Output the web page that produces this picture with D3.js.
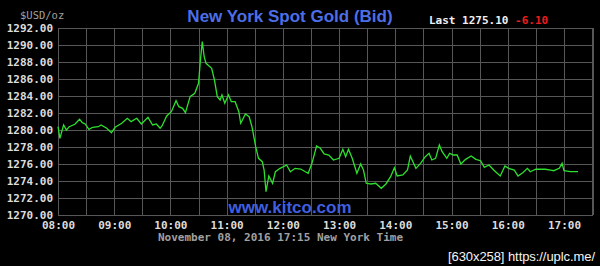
<!DOCTYPE html>
<html lang="en">

<head>
    <title>New York Spot Gold (Bid)</title>
    <meta charset="UTF-8">
    <script src="https://cdn.jsdelivr.net/npm/d3@7"></script>
    <style>
        body {
            margin: 0;
            background: #000;
        }
        svg {
            display: block;
        }
    </style>
</head>

<body>
    <script>
        // chart data
        var times = ['08:00', '08:02', '08:06', '08:09', '08:12', '08:18', '08:23', '08:26', '08:29', '08:33',
            '08:37', '08:43', '08:46', '08:52', '08:57', '09:01', '09:08', '09:14', '09:18', '09:24',
            '09:29', '09:36', '09:41', '09:45', '09:49', '09:51', '09:56', '10:01', '10:06', '10:09',
            '10:13', '10:16', '10:21', '10:26', '10:30', '10:32', '10:34', '10:36', '10:38', '10:44',
            '10:47', '10:50', '10:53', '10:55', '10:58', '11:02', '11:05', '11:09', '11:13', '11:15',
            '11:20', '11:24', '11:27', '11:31', '11:34', '11:38', '11:40', '11:42', '11:45', '11:49',
            '11:52', '11:57', '12:04', '12:08', '12:13', '12:19', '12:24', '12:27', '12:31', '12:36',
            '12:40', '12:44', '12:49', '12:54', '13:00', '13:04', '13:07', '13:10', '13:14', '13:19',
            '13:23', '13:26', '13:29', '13:34', '13:39', '13:45', '13:50', '13:55', '13:59', '14:02',
            '14:08', '14:13', '14:16', '14:22', '14:27', '14:32', '14:36', '14:39', '14:43', '14:47',
            '14:50', '14:55', '14:58', '15:02', '15:06', '15:10', '15:15', '15:21', '15:26', '15:31',
            '15:35', '15:40', '15:45', '15:52', '15:57', '16:01', '16:07', '16:11', '16:16', '16:21',
            '16:24', '16:30', '16:35', '16:40', '16:46', '16:49', '16:55', '16:58', '17:00', '17:07',
            '17:15'
        ];
        var prices = [1280.39, 1279.02, 1280.59, 1280.00, 1280.39, 1280.67, 1281.26, 1280.86, 1280.71, 1280.08,
            1280.32, 1280.39, 1280.59, 1280.20, 1279.68, 1280.32, 1280.79, 1281.38, 1280.98, 1281.38,
            1280.71, 1281.49, 1280.59, 1280.71, 1280.20, 1280.47, 1281.65, 1282.15, 1283.45, 1282.74,
            1282.55, 1282.04, 1283.92, 1284.32, 1285.49, 1288.24, 1290.39, 1288.62, 1287.85, 1287.26,
            1285.88, 1283.92, 1283.53, 1284.12, 1283.14, 1284.12, 1283.33, 1283.33, 1282.15, 1280.79,
            1281.88, 1281.56, 1280.39, 1278.04, 1276.67, 1276.27, 1275.29, 1272.74, 1274.59, 1273.73,
            1275.09, 1275.49, 1275.88, 1275.09, 1275.49, 1275.41, 1275.09, 1274.91, 1276.08, 1278.12,
            1277.85, 1277.18, 1277.06, 1276.47, 1276.67, 1277.73, 1276.86, 1277.73, 1276.67, 1274.91,
            1276.00, 1275.29, 1273.73, 1273.65, 1273.73, 1273.14, 1273.65, 1274.51, 1275.56, 1274.59,
            1274.71, 1275.29, 1276.94, 1275.49, 1276.08, 1276.86, 1277.26, 1276.47, 1276.67, 1278.24,
            1277.45, 1276.67, 1277.26, 1277.06, 1277.06, 1276.00, 1276.55, 1276.94, 1276.55, 1276.39,
            1275.61, 1275.88, 1275.29, 1274.59, 1275.76, 1275.49, 1275.29, 1274.59, 1274.98, 1275.49,
            1275.09, 1275.38, 1275.38, 1275.38, 1275.29, 1275.21, 1275.49, 1276.08, 1275.21, 1275.10,
            1275.10
        ];
        var yTicks = [1270, 1272, 1274, 1276, 1278, 1280, 1282, 1284, 1286, 1288, 1290, 1292];
        var xStart = '08:00',
            xEnd = '17:31';
        var lastPrice = '1275.10',
            change = '-6.10';

        // layout (note: "top" is reserved on window, so use pTop etc.)
        var width = 600,
            height = 266,
            pLeft = 58,
            pRight = 593,
            pTop = 28,
            pBottom = 215;

        var parse = d3.timeParse('%H:%M');
        var data = times.map(function(t, i) {
            return { time: parse(t), price: prices[i] };
        });

        var svg = d3.select('body').append('svg')
            .attr('width', width)
            .attr('height', height)
            .style('background', '#000');

        // scales
        var x = d3.scaleTime()
            .domain([parse(xStart), parse(xEnd)])
            .range([pLeft, pRight]);
        var y = d3.scaleLinear()
            .domain([1270, 1292])
            .range([pBottom, pTop]);

        // grid
        var grid = svg.append('g').attr('stroke', '#575757').attr('stroke-width', 1);
        grid.selectAll('line.h')
            .data(yTicks)
            .enter()
            .append('line')
            .attr('x1', pLeft)
            .attr('x2', pRight)
            .attr('y1', function(d) { return Math.round(y(d)) + 0.5; })
            .attr('y2', function(d) { return Math.round(y(d)) + 0.5; });
        grid.selectAll('line.v')
            .data(d3.timeMinute.every(30).range(parse(xStart), parse(xEnd)))
            .enter()
            .append('line')
            .attr('x1', function(d) { return Math.round(x(d)) + 0.5; })
            .attr('x2', function(d) { return Math.round(x(d)) + 0.5; })
            .attr('y1', pTop)
            .attr('y2', pBottom);
        grid.append('line')
            .attr('x1', pRight + 0.5).attr('x2', pRight + 0.5)
            .attr('y1', pTop).attr('y2', pBottom);

        // axes
        var yAxis = d3.axisLeft(y)
            .tickValues(yTicks)
            .tickSize(0)
            .tickPadding(5)
            .tickFormat(d3.format('.2f'));
        var xAxis = d3.axisBottom(x)
            .ticks(d3.timeHour.every(1))
            .tickSize(0)
            .tickPadding(6)
            .tickFormat(d3.timeFormat('%H:%M'));

        svg.append('g')
            .attr('transform', 'translate(' + pLeft + ',0)')
            .call(yAxis)
            .call(function(g) { g.select('.domain').remove(); })
            .selectAll('text')
            .attr('fill', '#dcdcdc')
            .attr('font-family', 'DejaVu Sans Mono')
            .attr('font-weight', 'bold')
            .attr('font-size', 11);

        svg.append('g')
            .attr('transform', 'translate(0,' + pBottom + ')')
            .call(xAxis)
            .call(function(g) { g.select('.domain').remove(); })
            .selectAll('text')
            .attr('fill', '#dcdcdc')
            .attr('font-family', 'DejaVu Sans Mono')
            .attr('font-weight', 'bold')
            .attr('font-size', 11);

        // price line
        var line = d3.line()
            .x(function(d) { return x(d.time); })
            .y(function(d) { return y(d.price); });
        svg.append('path')
            .datum(data)
            .attr('d', line)
            .attr('fill', 'none')
            .attr('stroke', '#2ee02e')
            .attr('stroke-width', 1.3);

        // texts
        svg.append('text')
            .attr('x', 20).attr('y', 19)
            .attr('font-family', 'DejaVu Sans Mono')
            .attr('font-size', 10.5)
            .attr('fill', '#a0a0a0')
            .text('$USD/oz');

        svg.append('text')
            .attr('x', 290).attr('y', 22)
            .attr('text-anchor', 'middle')
            .attr('font-family', 'Liberation Sans, Arial')
            .attr('font-weight', 'bold')
            .attr('font-size', 17)
            .attr('fill', '#4d6ee6')
            .text('New York Spot Gold (Bid)');

        var last = svg.append('text')
            .attr('x', 429).attr('y', 24)
            .attr('font-family', 'DejaVu Sans Mono')
            .attr('font-weight', 'bold')
            .attr('font-size', 11)
            .attr('fill', '#f0f0f0')
            .text('Last ' + lastPrice + ' ');
        last.append('tspan')
            .attr('fill', '#ee1c1c')
            .text(change);

        svg.append('text')
            .attr('x', 290).attr('y', 213)
            .attr('text-anchor', 'middle')
            .attr('font-family', 'Liberation Sans, Arial')
            .attr('font-weight', 'bold')
            .attr('font-size', 17)
            .attr('fill', '#3f5fe0')
            .text('www.kitco.com');

        svg.append('text')
            .attr('x', 158).attr('y', 241)
            .attr('font-family', 'DejaVu Sans Mono')
            .attr('font-weight', 'bold')
            .attr('font-size', 11)
            .attr('fill', '#a0a0a0')
            .text('November 08, 2016 17:15 New York Time');

        svg.append('text')
            .attr('x', 448).attr('y', 261)
            .attr('font-family', 'Liberation Sans')
            .attr('font-size', 13)
            .attr('textLength', 147)
            .attr('fill', '#f4f4f4')
            .text('[630x258] https://uplc.me/');
    </script>
</body>

</html>
